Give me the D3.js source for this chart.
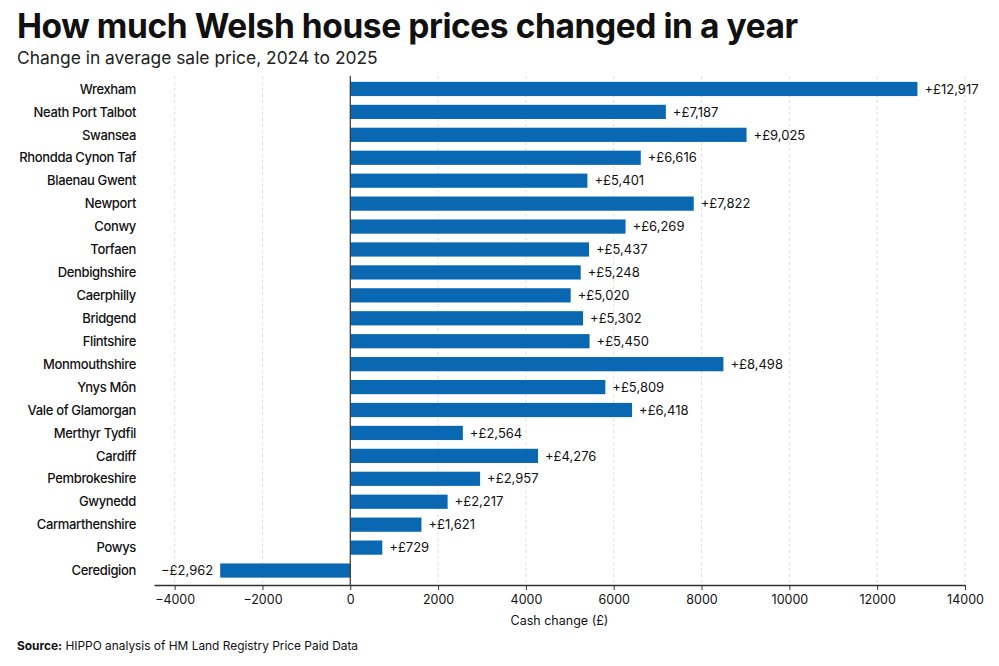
<!DOCTYPE html>
<html><head><meta charset="utf-8">
<script src="https://cdn.jsdelivr.net/npm/d3@7"></script>
<style>
body{margin:0;background:#fff;}
svg{display:block;font-family:Inter,"Noto Sans",sans-serif;}
</style></head>
<body><svg id="c" width="999" height="666"></svg>
<script>
const areas = ["Wrexham","Neath Port Talbot","Swansea","Rhondda Cynon Taf","Blaenau Gwent","Newport","Conwy","Torfaen","Denbighshire","Caerphilly","Bridgend","Flintshire","Monmouthshire","Ynys Môn","Vale of Glamorgan","Merthyr Tydfil","Cardiff","Pembrokeshire","Gwynedd","Carmarthenshire","Powys","Ceredigion"];
const changes = [12917,7187,9025,6616,5401,7822,6269,5437,5248,5020,5302,5450,8498,5809,6418,2564,4276,2957,2217,1621,729,-2962];
const xTicks = [-4000,-2000,0,2000,4000,6000,8000,10000,12000,14000];
const titleText = "How much Welsh house prices changed in a year";
const subtitleText = "Change in average sale price, 2024 to 2025";
const xTitle = "Cash change (£)";
const sourceLabel = "Source:";
const sourceText = " HIPPO analysis of HM Land Registry Price Paid Data";

const svg = d3.select("#c");
const barColor = "#0a67b2";
const plotTop = 76, axisY = 585;

const x = d3.scaleLinear().domain([-4470, 14000]).range([154, 965]);
const y = d3.scaleBand().domain(areas).range([77.5, 582]).paddingInner(0.38).paddingOuter(0.19);

svg.append("text").attr("x",17).attr("y",37.5).attr("font-size",33.5).attr("font-weight",700)
  .attr("fill","#111").attr("letter-spacing","-0.42").text(titleText);
svg.append("text").attr("x",17).attr("y",63.5).attr("font-size",17.4).attr("font-weight",400)
  .attr("fill","#222").text(subtitleText);

// gridlines
svg.append("g").selectAll("line").data(xTicks.filter(d=>d!==0)).join("line")
  .attr("x1",d=>x(d)).attr("x2",d=>x(d)).attr("y1",plotTop).attr("y2",axisY)
  .attr("stroke","#ddd").attr("stroke-width",1).attr("stroke-dasharray","3,3");

// bars
svg.append("g").selectAll("rect").data(areas).join("rect")
  .attr("x",(d,i)=>x(Math.min(0,changes[i])))
  .attr("y",d=>y(d))
  .attr("width",(d,i)=>Math.abs(x(changes[i])-x(0)))
  .attr("height",y.bandwidth())
  .attr("fill",barColor);

// value labels
const fmt = d3.format(",");
svg.append("g").selectAll("text").data(areas).join("text")
  .attr("x",(d,i)=>changes[i]>=0 ? x(changes[i])+7 : x(changes[i])-7)
  .attr("y",d=>y(d)+y.bandwidth()/2)
  .attr("dy","0.36em")
  .attr("text-anchor",(d,i)=>changes[i]>=0?"start":"end")
  .attr("font-size",13).attr("fill","#111")
  .text((d,i)=>(changes[i]>=0?"+£":"\u2212£")+fmt(Math.abs(changes[i])));

// category labels
svg.append("g").selectAll("text").data(areas).join("text")
  .attr("x",136).attr("y",d=>y(d)+y.bandwidth()/2).attr("dy","0.36em")
  .attr("text-anchor","end").attr("font-size",13).attr("font-weight",500).attr("fill","#111")
  .attr("letter-spacing","-0.35")
  .text(d=>d);

// zero line
svg.append("line").attr("x1",x(0)).attr("x2",x(0)).attr("y1",plotTop).attr("y2",axisY)
  .attr("stroke","#333").attr("stroke-width",1.2);

// x axis
const ax = svg.append("g").attr("transform",`translate(0,${axisY})`)
  .call(d3.axisBottom(x).tickValues(xTicks).tickFormat(d=>d<0?"\u2212"+Math.abs(d):String(d)).tickSize(5).tickSizeOuter(0));
ax.select(".domain").attr("stroke","#333").attr("stroke-width",1.3);
ax.selectAll(".tick line").attr("stroke","#333");
ax.selectAll(".tick text").attr("font-size",12.5).attr("fill","#111").attr("font-family","Inter,'Noto Sans',sans-serif").attr("dy","0.9em");

svg.append("text").attr("x",(x.range()[0]+x.range()[1])/2).attr("y",625).attr("text-anchor","middle")
  .attr("font-size",12.5).attr("fill","#111").text(xTitle);

const src = svg.append("text").attr("x",17).attr("y",650).attr("font-size",11.9).attr("fill","#111");
src.append("tspan").attr("font-weight",700).text(sourceLabel);
src.append("tspan").text(sourceText);
</script></body></html>
